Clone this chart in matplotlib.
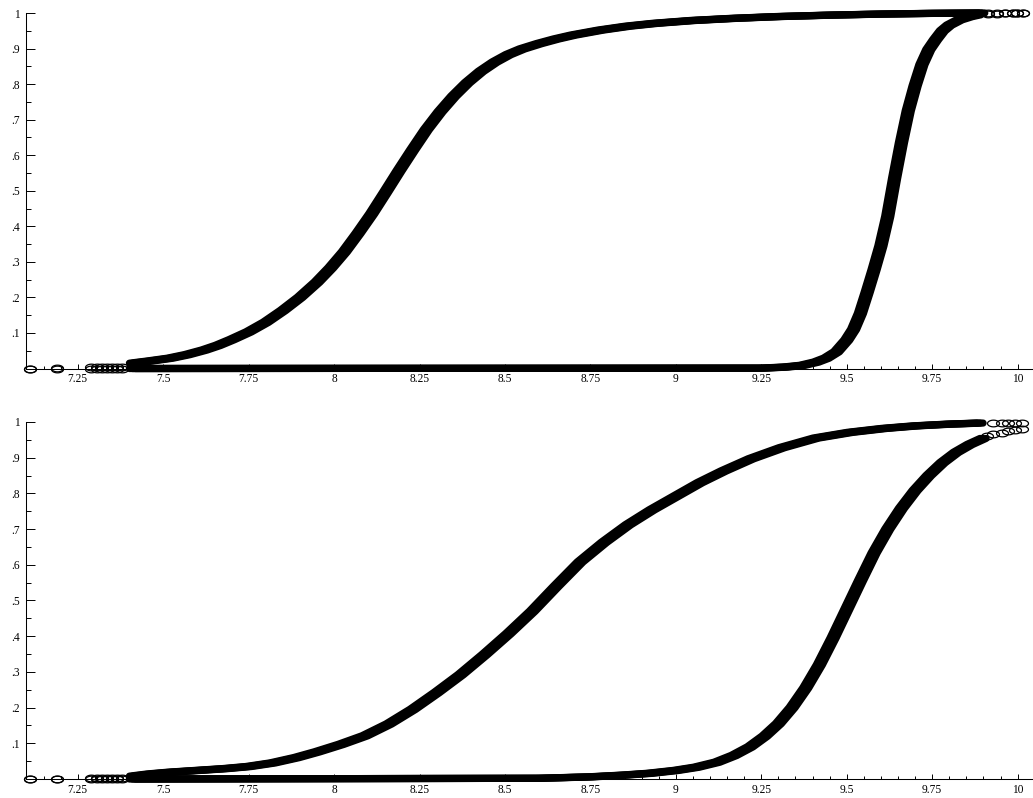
import matplotlib.pyplot as plt
import matplotlib.patheffects as pe
from matplotlib.path import Path
from matplotlib.ticker import MultipleLocator, FixedLocator, FuncFormatter
import numpy as np

plt.rcParams['font.family'] = ['Liberation Serif', 'DejaVu Serif']

# ---- data ----
# upper panel
top_a_x = [7.41, 7.46, 7.52, 7.57, 7.62, 7.66, 7.70, 7.75, 7.80, 7.85, 7.90, 7.95,
           7.99, 8.03, 8.07, 8.11, 8.15, 8.19, 8.23, 8.27, 8.31, 8.35, 8.39, 8.43,
           8.47, 8.51, 8.55, 8.60, 8.65, 8.70, 8.78, 8.86, 8.94, 9.05, 9.17, 9.30,
           9.45, 9.60, 9.75, 9.895]
top_a_y = [0.015, 0.021, 0.029, 0.039, 0.052, 0.065, 0.081, 0.103, 0.130, 0.163, 0.200, 0.243,
           0.283, 0.328, 0.380, 0.435, 0.495, 0.556, 0.615, 0.672, 0.722, 0.766, 0.804, 0.836,
           0.862, 0.883, 0.899, 0.914, 0.927, 0.938, 0.952, 0.963, 0.971, 0.979, 0.985, 0.990,
           0.994, 0.997, 0.999, 1.0]
top_b_x = [7.41, 9.25, 9.32, 9.37, 9.41, 9.44, 9.47, 9.50, 9.52, 9.54, 9.56, 9.58,
           9.60, 9.62, 9.64, 9.66, 9.68, 9.70, 9.72, 9.74, 9.76, 9.78, 9.80, 9.83,
           9.86, 9.884]
top_b_y = [0.0, 0.001, 0.004, 0.009, 0.018, 0.029, 0.047, 0.080, 0.110, 0.155, 0.215, 0.278,
           0.345, 0.428, 0.535, 0.635, 0.725, 0.795, 0.855, 0.897, 0.925, 0.950, 0.966, 0.981,
           0.990, 0.995]

# lower panel
bot_a_x = [7.41, 7.46, 7.52, 7.60, 7.68, 7.75, 7.82, 7.89, 7.95, 8.02, 8.09, 8.16,
           8.23, 8.30, 8.37, 8.44, 8.51, 8.58, 8.65, 8.72, 8.79, 8.86, 8.93, 9.00,
           9.07, 9.14, 9.22, 9.31, 9.41, 9.51, 9.61, 9.70, 9.80, 9.89]
bot_a_y = [0.008, 0.014, 0.019, 0.024, 0.029, 0.035, 0.045, 0.060, 0.076, 0.097, 0.121, 0.154,
           0.195, 0.242, 0.292, 0.348, 0.407, 0.470, 0.540, 0.608, 0.663, 0.712, 0.754, 0.792,
           0.830, 0.863, 0.897, 0.928, 0.955, 0.971, 0.982, 0.989, 0.994, 0.997]
bot_b_x = [7.41, 8.60, 8.75, 8.85, 8.924, 9.00, 9.06, 9.12, 9.17, 9.217, 9.26, 9.30,
           9.34, 9.38, 9.42, 9.46, 9.50, 9.54, 9.58, 9.62, 9.66, 9.70, 9.74, 9.78,
           9.82, 9.86, 9.899]
bot_b_y = [0.0, 0.002, 0.006, 0.011, 0.016, 0.024, 0.033, 0.047, 0.066, 0.090, 0.120, 0.155,
           0.200, 0.255, 0.320, 0.395, 0.475, 0.555, 0.633, 0.700, 0.758, 0.808, 0.850, 0.886,
           0.915, 0.937, 0.954]

# sparse points at both ends (single circles)
left_tail_x = [7.109, 7.188, 7.29, 7.305, 7.32, 7.335, 7.35, 7.365, 7.38]
left_tail_a_y = [0.0, 0.001, 0.003, 0.003, 0.003, 0.003, 0.003, 0.004, 0.004]
left_tail_b_y = [0.0, 0.0, 0.0, 0.0, 0.0, 0.0, 0.0, 0.0, 0.0]

top_tail_x = [9.914, 9.94, 9.963, 9.987, 9.998, 10.016]
top_tail_a_y = [1.0, 1.0, 1.0, 1.0, 1.0, 1.0]
top_tail_b_y = [0.997, 0.998, 0.999, 1.0, 1.0, 1.0]

bot_tail_a_x = [9.928, 9.953, 9.972, 9.992, 10.012]
bot_tail_a_y = [0.998, 0.998, 0.998, 0.998, 0.998]
bot_tail_b_x = [9.91, 9.928, 9.953, 9.972, 9.992, 10.012]
bot_tail_b_y = [0.962, 0.966, 0.970, 0.974, 0.977, 0.980]

x_major = [7.25, 7.5, 7.75, 8, 8.25, 8.5, 8.75, 9, 9.25, 9.5, 9.75, 10]
y_major = [0.1, 0.2, 0.3, 0.4, 0.5, 0.6, 0.7, 0.8, 0.9, 1.0]

# ---- styles ----
# open ellipse marker (wider than tall)
theta = np.linspace(0, 2 * np.pi, 41)
ellipse = Path(np.column_stack([np.cos(theta), 0.56 * np.sin(theta)]), closed=True)

band_lw = 5.2
band_fx = [pe.Stroke(linewidth=band_lw, foreground='k', offset=(-2.2, 0)),
           pe.Stroke(linewidth=band_lw, foreground='k', offset=(2.2, 0)),
           pe.Normal()]


def draw_curve(ax, x, y, tail_x_list, tail_y_list):
    # dense part: thick band of overlapping circles
    ax.plot(x, y, color='k', linewidth=band_lw, solid_capstyle='round',
            solid_joinstyle='round', path_effects=band_fx, clip_on=False, zorder=2)
    # sparse ends: single circles
    for tx, ty in zip(tail_x_list, tail_y_list):
        ax.plot(tx, ty, linestyle='none', marker=ellipse, markersize=8.6,
                markerfacecolor='none', markeredgecolor='k', markeredgewidth=0.9,
                clip_on=False, zorder=3)


def style_axes(ax):
    ax.set_xlim(7.1, 10.045)
    ax.set_ylim(0, 1)
    ax.spines['top'].set_visible(False)
    ax.spines['right'].set_visible(False)
    ax.spines['left'].set_linewidth(0.75)
    ax.spines['bottom'].set_linewidth(0.75)

    ax.xaxis.set_major_locator(FixedLocator(x_major))
    ax.xaxis.set_minor_locator(MultipleLocator(0.05))
    ax.yaxis.set_major_locator(FixedLocator(y_major))
    ax.yaxis.set_minor_locator(FixedLocator([v - 0.05 for v in y_major]))

    ax.xaxis.set_major_formatter(FuncFormatter(lambda v, p: f'{v:g}'))
    ax.yaxis.set_major_formatter(FuncFormatter(lambda v, p: f'{v:g}'.lstrip('0')))

    ax.tick_params(axis='x', which='major', direction='in', length=3.8, width=0.7,
                   labelsize=8.3, pad=3.5)
    ax.tick_params(axis='x', which='minor', direction='in', length=1.9, width=0.7)
    ax.tick_params(axis='y', which='major', direction='in', length=6.7, width=0.7,
                   labelsize=8.3, pad=4.5)
    ax.tick_params(axis='y', which='minor', direction='in', length=3.8, width=0.7)


fig = plt.figure(figsize=(10.33, 7.98), dpi=100)

ax1 = fig.add_axes([0.02565, 0.5382, 0.97435, 0.4455])
style_axes(ax1)
draw_curve(ax1, top_a_x, top_a_y, [left_tail_x, top_tail_x], [left_tail_a_y, top_tail_a_y])
draw_curve(ax1, top_b_x, top_b_y, [left_tail_x, top_tail_x], [left_tail_b_y, top_tail_b_y])

ax2 = fig.add_axes([0.02565, 0.0238, 0.97435, 0.4474])
style_axes(ax2)
draw_curve(ax2, bot_a_x, bot_a_y, [left_tail_x, bot_tail_a_x], [left_tail_a_y, bot_tail_a_y])
draw_curve(ax2, bot_b_x, bot_b_y, [left_tail_x, bot_tail_b_x], [left_tail_b_y, bot_tail_b_y])

fig.savefig('out.png', dpi=100)
